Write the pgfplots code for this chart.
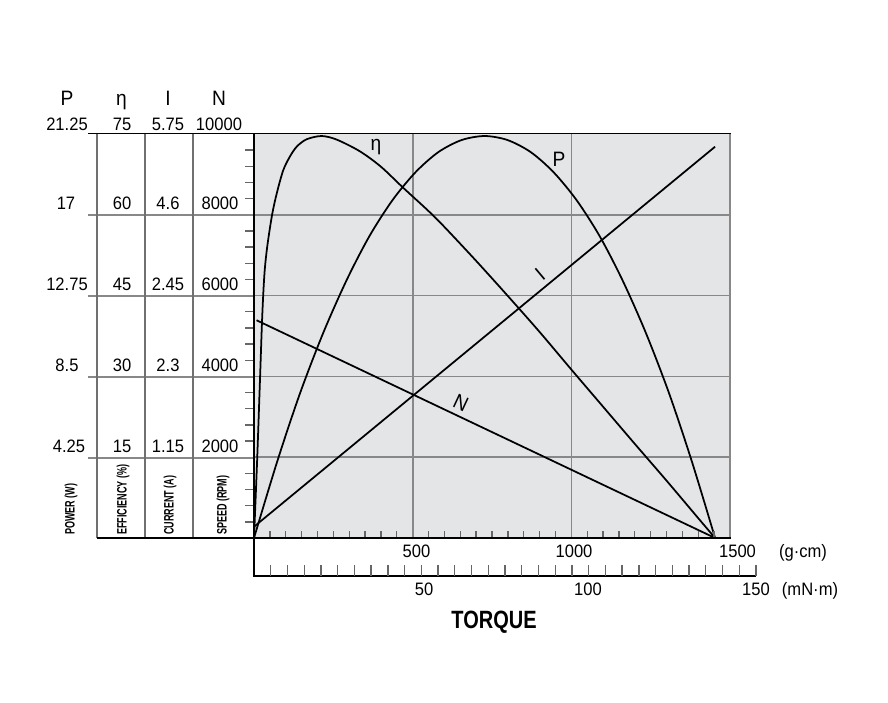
\documentclass[border=0pt]{standalone}
\usepackage{fontspec}
\setmainfont{Liberation Sans}[FakeStretch=0.92]
\newfontfamily\condfont{Liberation Sans}[FakeStretch=0.8]
\newfontfamily\narrowfont{Liberation Sans}[FakeStretch=0.66]
\usepackage{pgfplots}
\pgfplotsset{compat=1.18}
\definecolor{plotbg}{HTML}{E4E5E7}
\definecolor{gridgray}{HTML}{888888}
\definecolor{tickgray}{HTML}{666666}
\definecolor{colgray}{HTML}{707070}

\begin{document}
\begin{tikzpicture}
\begin{scope}[x=0.6pt,y=-0.6pt]
\path[use as bounding box] (0,0) rectangle (888,702);
\end{scope}
\begin{axis}[
  at={(152.4pt,-322.8pt)}, anchor=south west,
  scale only axis, width=285.6pt, height=242.4pt,
  xmin=0, xmax=1500, ymin=0, ymax=10000,
  axis background/.style={fill=plotbg},
  axis line style={draw=none},
  xtick={500,1000}, ytick={2000,4000,6000,8000},
  xticklabels={}, yticklabels={},
  scaled x ticks=false, scaled y ticks=false,
  major tick length=0pt,
  grid=major, grid style={gridgray, line width=1pt},
]
% efficiency
\addplot[black, line width=1.05pt, smooth, no markers] coordinates {(0,0) (10,1950) (19,3950) (26,5500) (33,6550) (42,7230) (57,8000) (72,8540) (92,9100) (113,9440) (135,9690) (166,9870) (213,9950) (261,9860) (334,9570) (400,9190) (470,8670) (549,8100) (600,7700) (700,6860) (800,5990) (900,5100) (1000,4170) (1100,3250) (1200,2330) (1300,1420) (1400,490) (1453,0)};
% power
\addplot[black, line width=1.05pt, smooth, no markers] coordinates {(0,0) (73,1890) (145,3582) (218,5074) (291,6368) (363,7462) (436,8358) (509,9054) (581,9552) (654,9850) (727,9950) (799,9850) (872,9552) (944,9054) (1017,8358) (1090,7462) (1162,6368) (1235,5074) (1308,3582) (1380,1890) (1453,0)};
% current
\addplot[black, line width=1.05pt, no markers] coordinates {(0,280) (1453,9686)};
% speed
\addplot[black, line width=1.05pt, no markers] coordinates {(8,5390) (1453,0)};
\end{axis}
\begin{scope}[x=0.6pt,y=-0.6pt]
% left panel grid
\foreach \yy in {215,296,377,458} \draw[gridgray, line width=1pt] (88,\yy) -- (254,\yy);
\foreach \xx in {97,145,193} \draw[colgray, line width=0.7pt] (\xx,133.5) -- (\xx,538);
% left ticks
\foreach \k in {1,2,3,4,6,7,8,9,11,12,13,14,16,17,18,19,21,22,23,24}
  \draw[tickgray, line width=0.8pt] (245,{538-16.16*\k}) -- (254,{538-16.16*\k});
% bottom inner ticks
\foreach \k in {1,...,9,11,12,...,19,21,22,...,29}
  \draw[tickgray, line width=0.8pt] ({254+15.867*\k},538) -- ({254+15.867*\k},530.5);
% second axis
\draw[black, line width=1pt] (254,576) -- (756,576);
\foreach \k in {1,...,30}
  \draw[tickgray, line width=0.8pt] ({254+16.733*\k},576) -- ({254+16.733*\k},565);
% borders
\draw[gridgray, line width=1pt] (730,133.5) -- (730,538);
\draw[black, line width=1pt] (88,133.5) -- (730.5,133.5);
\draw[black, line width=1pt] (97,538) -- (730.5,538);
\draw[black, line width=1pt] (254,133.5) -- (254,576.5);
% headers
\begin{scope}[every node/.style={font=\fontsize{12.5}{14}\selectfont, anchor=base, inner sep=0pt}]
\node at (67,105) {P};
\node at (121.5,105) {η};
\node at (168,105) {I};
\node at (219,105) {N};
\end{scope}
\begin{scope}[every node/.style={font=\fontsize{10.8}{12}\selectfont, anchor=base, inner sep=0pt}]
\node at (67,130) {21.25}; \node at (122,130) {75}; \node at (168,130) {5.75}; \node at (219,130) {10000};
\node at (66,209.5) {17}; \node at (122,209.5) {60}; \node at (168,209.5) {4.6}; \node at (220,209.5) {8000};
\node at (67,290.5) {12.75}; \node at (122,290.5) {45}; \node at (168,290.5) {2.45}; \node at (220,290.5) {6000};
\node at (67,371.5) {8.5}; \node at (122,371.5) {30}; \node at (168,371.5) {2.3}; \node at (220,371.5) {4000};
\node at (69,452) {4.25}; \node at (122,452) {15}; \node at (168,452) {1.15}; \node at (220,452) {2000};
% bottom axes
\node at (416.5,557) {500}; \node at (574,557) {1000}; \node at (737.5,557) {1500};
\node at (803,557) {(g·cm)};
\node at (424,595) {50}; \node at (588,595) {100}; \node at (756,595) {150};
\node at (810,595) {(mN·m)};
\end{scope}
\node[anchor=base, inner sep=0pt, font=\condfont\bfseries\fontsize{15}{18}\selectfont] at (494,628) {TORQUE};
% rotated labels
\begin{scope}[every node/.style={font=\narrowfont\bfseries\fontsize{8.2}{9}\selectfont, rotate=90, anchor=west, inner sep=0pt}]
\node at (71,535) {POWER (W)};
\node at (123,535) {EFFICIENCY (\%)};
\node at (170,535) {CURRENT (A)};
\node at (223,535) {SPEED (RPM)};
\end{scope}
% curve labels
\begin{scope}[every node/.style={font=\fontsize{12.5}{14}\selectfont, inner sep=0pt}]
\node at (376,147) {η};
\node[anchor=base] at (559,166.7) {P};
\node[rotate=40] at (540,274) {I};
\node[rotate=-25] at (461,403) {N};
\end{scope}
\end{scope}
\end{tikzpicture}
\end{document}
